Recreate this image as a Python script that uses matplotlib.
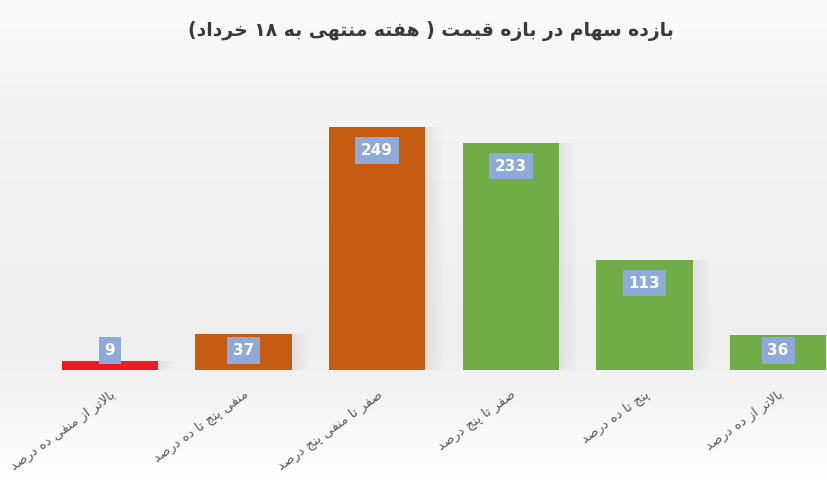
import matplotlib
matplotlib.use("Agg")
import matplotlib.pyplot as plt
import numpy as np
from matplotlib.colors import LinearSegmentedColormap

# data
title = "بازده سهام در بازه قیمت ( هفته منتهی به ۱۸ خرداد)"
categories = [
    "بالاتر از منفی ده درصد",
    "منفی پنج تا ده درصد",
    "صفر تا منفی پنج درصد",
    "صفر تا پنج درصد",
    "پنج تا ده درصد",
    "بالاتر از ده درصد",
]
values = [9, 37, 249, 233, 113, 36]
colors = ["#ec1c24", "#c55a11", "#c55a11", "#70ad47", "#70ad47", "#70ad47"]

# simple arabic/persian shaping (matplotlib draws glyphs one by one, left to right)
# iso, final, initial, medial
FORMS = {
    "ا": ("\uFE8D", "\uFE8E", None, None),
    "ب": ("\uFE8F", "\uFE90", "\uFE91", "\uFE92"),
    "ت": ("\uFE95", "\uFE96", "\uFE97", "\uFE98"),
    "ج": ("\uFE9D", "\uFE9E", "\uFE9F", "\uFEA0"),
    "خ": ("\uFEA5", "\uFEA6", "\uFEA7", "\uFEA8"),
    "د": ("\uFEA9", "\uFEAA", None, None),
    "ر": ("\uFEAD", "\uFEAE", None, None),
    "ز": ("\uFEAF", "\uFEB0", None, None),
    "س": ("\uFEB1", "\uFEB2", "\uFEB3", "\uFEB4"),
    "ص": ("\uFEB9", "\uFEBA", "\uFEBB", "\uFEBC"),
    "ف": ("\uFED1", "\uFED2", "\uFED3", "\uFED4"),
    "ق": ("\uFED5", "\uFED6", "\uFED7", "\uFED8"),
    "ل": ("\uFEDD", "\uFEDE", "\uFEDF", "\uFEE0"),
    "م": ("\uFEE1", "\uFEE2", "\uFEE3", "\uFEE4"),
    "ن": ("\uFEE5", "\uFEE6", "\uFEE7", "\uFEE8"),
    "ه": ("\uFEE9", "\uFEEA", "\uFEEB", "\uFEEC"),
    "پ": ("\uFB56", "\uFB57", "\uFB58", "\uFB59"),
    "ی": ("\uFEEF", "\uFEF0", "\uFEF3", "\uFEF4"),
}
DIGITS = set("0123456789۰۱۲۳۴۵۶۷۸۹")
MIRROR = {"(": ")", ")": "("}


def shape(s):
    out = []
    i = 0
    n = len(s)
    while i < n:
        c = s[i]
        if c not in FORMS:
            out.append(c)
            i += 1
            continue
        prev = s[i - 1] if i > 0 else ""
        join_prev = prev in FORMS and FORMS[prev][2] is not None
        if c == "ل" and i + 1 < n and s[i + 1] == "ا":
            out.append("\uFEFC" if join_prev else "\uFEFB")
            i += 2
            continue
        nxt = s[i + 1] if i + 1 < n else ""
        join_next = FORMS[c][2] is not None and nxt in FORMS
        iso, fin, ini, med = FORMS[c]
        if join_prev and join_next:
            out.append(med)
        elif join_prev:
            out.append(fin)
        elif join_next:
            out.append(ini)
        else:
            out.append(iso)
        i += 1
    return "".join(out)


def rtl(s):
    s = shape(s)
    runs = []
    for ch in s:
        isdig = ch in DIGITS
        if runs and runs[-1][0] == isdig:
            runs[-1][1].append(ch)
        else:
            runs.append([isdig, [ch]])
    res = []
    for isdig, chars in reversed(runs):
        if isdig:
            res.extend(chars)
        else:
            res.extend(MIRROR.get(ch, ch) for ch in reversed(chars))
    return "".join(res)


plt.rcParams["font.family"] = ["DejaVu Sans"]

W, H = 828, 482
fig = plt.figure(figsize=(W / 100, H / 100), dpi=100)

# background gradient
bg = fig.add_axes([0, 0, 1, 1], zorder=-10)
grad = LinearSegmentedColormap.from_list(
    "bg", [(0, "#fbfbfb"), (0.2, "#f4f4f4"), (0.72, "#eeeeee"), (1.0, "#ffffff")])
bg.imshow(np.linspace(0, 1, 256).reshape(-1, 1), aspect="auto", cmap=grad,
          extent=[0, 1, 1, 0])
bg.axis("off")

px = 0.976  # pixels per unit
base = 370
ax_left, ax_right = 43, 845
ymax = 300
ax = fig.add_axes([ax_left / W, (H - base) / H, (ax_right - ax_left) / W, ymax * px / H])
ax.patch.set_alpha(0)
x = np.arange(len(values))

# soft shadows
for k in range(5):
    ax.bar(x + 0.02 + 0.012 * k, values, width=0.72 + 0.03 * k, color="#909090",
           alpha=0.022, zorder=1)
ax.bar(x, values, width=0.72, color=colors, zorder=3)

for xi, v in zip(x, values):
    yc = max(v - 24, 20)
    ax.text(xi, yc, str(v), ha="center", va="center", fontsize=11, fontweight="bold",
            color="white", zorder=5,
            bbox=dict(boxstyle="square,pad=0.38", fc="#8eaadb", ec="none"))

ax.set_xlim(-0.5, len(values) - 0.5)
ax.set_ylim(0, ymax)
ax.set_xticks(x)
ax.set_xticklabels([rtl(c) for c in categories], rotation=36, ha="right",
                   rotation_mode="anchor", fontsize=9.5, color="#595959")
ax.tick_params(axis="x", length=0, pad=13)
ax.set_yticks([])
for sp in ax.spines.values():
    sp.set_visible(False)

fig.text(0.52, 0.935, rtl(title), ha="center", va="center", fontsize=13.5,
         fontweight="bold", color="#3a3a3a")

fig.savefig("out.png", dpi=100)
